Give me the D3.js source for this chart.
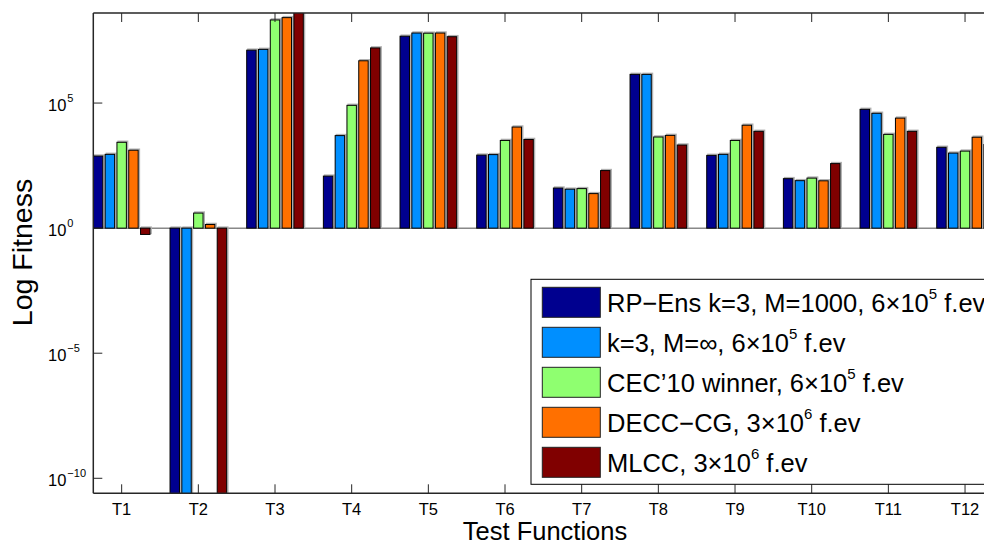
<!DOCTYPE html>
<html>
<head>
<meta charset="utf-8">
<script src="https://cdn.jsdelivr.net/npm/d3@7"></script>
<style>
  body { margin: 0; background: #fff; }
  svg { display: block; font-family: "Liberation Sans", Arial, sans-serif; }
</style>
</head>
<body>
<div class="chart"></div>
<script>
// chart size
var svgWidth = 984;
var svgHeight = 545;

// categories and tick labels
var categories = ["T1", "T2", "T3", "T4", "T5", "T6", "T7", "T8", "T9", "T10", "T11", "T12"];
var yTickExps = [-10, -5, 0, 5];

// series names (^n marks a superscript)
var seriesNames = [
    "RP\u2212Ens k=3, M=1000, 6\u00d710^5 f.ev",
    "k=3, M=\u221e, 6\u00d710^5 f.ev",
    "CEC\u201910 winner, 6\u00d710^5 f.ev",
    "DECC\u2212CG, 3\u00d710^6 f.ev",
    "MLCC, 3\u00d710^6 f.ev"
];
var seriesColors = ["#00008f", "#008fff", "#8fff70", "#ff7000", "#800000"];

// fitness values, one array per method
var rpEns   = [7.6e2, 1e-12, 1.3e7, 1.2e2, 4.7e7, 8.3e2, 40, 1.4e6, 8.1e2, 95, 5.6e4, 1.7e3];
var rpInf   = [8.9e2, 1e-12, 1.4e7, 5.0e3, 6.3e7, 8.7e2, 36, 1.4e6, 8.9e2, 79, 3.9e4, 1.0e3];
var cec10   = [2.7e3, 4.0, 2.1e8, 8.1e4, 6.2e7, 3.2e3, 38, 4.4e3, 3.2e3, 1.0e2, 5.6e3, 1.2e3];
var deccCG  = [1.3e3, 1.4, 2.6e8, 4.9e6, 6.3e7, 1.1e4, 24, 5.1e3, 1.3e4, 78, 2.5e4, 4.3e3];
var mlcc    = [0.56, 1e-12, 1e9, 1.6e7, 4.5e7, 3.5e3, 2.0e2, 2.1e3, 7.4e3, 3.8e2, 7.4e3, 2.2e3];
var seriesValues = [rpEns, rpInf, cec10, deccCG, mlcc];

// plot box (right side runs past the window, like the original)
var plot = { left: 93.3, top: 13, right: 993.4, bottom: 493.3 };

var svg = d3.select(".chart")
    .append("svg")
    .attr("width", svgWidth)
    .attr("height", svgHeight);

var xScale = d3.scaleLinear()
    .domain([0.63, 12.37])
    .range([plot.left, plot.right]);

var yScale = d3.scaleLog()
    .domain([Math.pow(10, -10.6), Math.pow(10, 8.6)])
    .range([plot.bottom, plot.top]);

// matlab style grouped bars: 5 bars in 0.769 of a slot
var nSeries = seriesValues.length;
var groupWidth = Math.min(0.8, nSeries / (nSeries + 1.5));
var pitch = groupWidth / nSeries;
var barW = xScale(pitch * 0.8) - xScale(0);

svg.append("clipPath")
    .attr("id", "plotClip")
    .append("rect")
    .attr("x", plot.left)
    .attr("y", plot.top)
    .attr("width", plot.right - plot.left)
    .attr("height", plot.bottom - plot.top);

var barsGroup = svg.append("g").attr("clip-path", "url(#plotClip)");

// baseline at 10^0
barsGroup.append("line")
    .attr("x1", plot.left)
    .attr("x2", plot.right)
    .attr("y1", yScale(1))
    .attr("y2", yScale(1))
    .attr("stroke", "#888")
    .attr("stroke-width", 1.5);

var barData = [];
seriesValues.forEach(function(vals, s) {
    vals.forEach(function(v, i) {
        barData.push({ s: s, i: i, v: v });
    });
});

function barX(d) {
    var c = (d.i + 1) - groupWidth / 2 + pitch * (d.s + 0.5);
    return xScale(c) - barW / 2;
}
function barY(d) { return Math.min(yScale(d.v), yScale(1)); }
function barH(d) { return Math.abs(yScale(d.v) - yScale(1)); }

// soft grey shadow behind each bar
barsGroup.selectAll("rect.shadow")
    .data(barData)
    .enter()
    .append("rect")
    .attr("class", "shadow")
    .attr("x", d => barX(d) + 1.2)
    .attr("y", d => barY(d) - 1)
    .attr("width", barW)
    .attr("height", d => barH(d))
    .attr("fill", "none")
    .attr("stroke", "#b0b0b0")
    .attr("stroke-width", 1.5);

barsGroup.selectAll("rect.bar")
    .data(barData)
    .enter()
    .append("rect")
    .attr("class", "bar")
    .attr("x", d => barX(d))
    .attr("y", d => barY(d))
    .attr("width", barW)
    .attr("height", d => barH(d))
    .attr("fill", d => seriesColors[d.s])
    .attr("stroke", "#000")
    .attr("stroke-width", 1);

// axes box (left, top, bottom)
var axisColor = "#262626";
svg.append("line")
    .attr("x1", plot.left).attr("x2", plot.left)
    .attr("y1", plot.top).attr("y2", plot.bottom)
    .attr("stroke", axisColor).attr("stroke-width", 1.5);
svg.append("line")
    .attr("x1", plot.left).attr("x2", plot.right)
    .attr("y1", plot.top).attr("y2", plot.top)
    .attr("stroke", axisColor).attr("stroke-width", 1.5);
svg.append("line")
    .attr("x1", plot.left).attr("x2", plot.right)
    .attr("y1", plot.bottom).attr("y2", plot.bottom)
    .attr("stroke", axisColor).attr("stroke-width", 1.5);

// x ticks, inside top and bottom
var xTicks = svg.append("g");
categories.forEach(function(c, i) {
    var x = xScale(i + 1);
    xTicks.append("line")
        .attr("x1", x).attr("x2", x)
        .attr("y1", plot.bottom).attr("y2", plot.bottom - 9)
        .attr("stroke", axisColor);
    xTicks.append("line")
        .attr("x1", x).attr("x2", x)
        .attr("y1", plot.top).attr("y2", plot.top + 9)
        .attr("stroke", axisColor);
    xTicks.append("text")
        .attr("x", x)
        .attr("y", plot.bottom + 22)
        .attr("text-anchor", "middle")
        .attr("font-size", 16.5)
        .attr("fill", "#000")
        .text(c);
});

// y ticks with 10^n labels
var yTicks = svg.append("g");
yTickExps.forEach(function(e) {
    var y = yScale(Math.pow(10, e));
    yTicks.append("line")
        .attr("x1", plot.left).attr("x2", plot.left + 9)
        .attr("y1", y).attr("y2", y)
        .attr("stroke", axisColor);
    var t = yTicks.append("text")
        .attr("x", 48)
        .attr("y", y + 7.5)
        .attr("font-size", 16.5)
        .attr("fill", "#000");
    t.append("tspan").text("10");
    t.append("tspan")
        .attr("dx", 1)
        .attr("dy", -9)
        .attr("font-size", 11)
        .text(e < 0 ? "\u2212" + Math.abs(e) : String(e));
});

// axis titles
svg.append("text")
    .attr("x", 545)
    .attr("y", 539.5)
    .attr("text-anchor", "middle")
    .attr("font-size", 25.5)
    .attr("fill", "#000")
    .text("Test Functions");

svg.append("text")
    .attr("transform", "translate(32, 252.5) rotate(-90)")
    .attr("text-anchor", "middle")
    .attr("font-size", 28.5)
    .attr("fill", "#000")
    .text("Log Fitness");

// legend
var legend = svg.append("g");
legend.append("rect")
    .attr("x", 531)
    .attr("y", 279.3)
    .attr("width", 480)
    .attr("height", 205)
    .attr("fill", "#fff")
    .attr("stroke", "#000")
    .attr("stroke-width", 1);

seriesNames.forEach(function(name, s) {
    var cy = 302.3 + s * 40;
    legend.append("rect")
        .attr("x", 542.3)
        .attr("y", cy - 15)
        .attr("width", 58)
        .attr("height", 30)
        .attr("fill", seriesColors[s])
        .attr("stroke", "#222")
        .attr("stroke-width", 1);
    var parts = name.split(/\^(\d)/);
    var t = legend.append("text")
        .attr("x", 607)
        .attr("y", cy + 9.4)
        .attr("font-size", 25.5)
        .attr("fill", "#000");
    t.append("tspan").text(parts[0]);
    t.append("tspan").attr("dy", -12.4).attr("font-size", 15).text(parts[1]);
    t.append("tspan").attr("dy", 12.4).text(parts[2]);
});
</script>
</body>
</html>
